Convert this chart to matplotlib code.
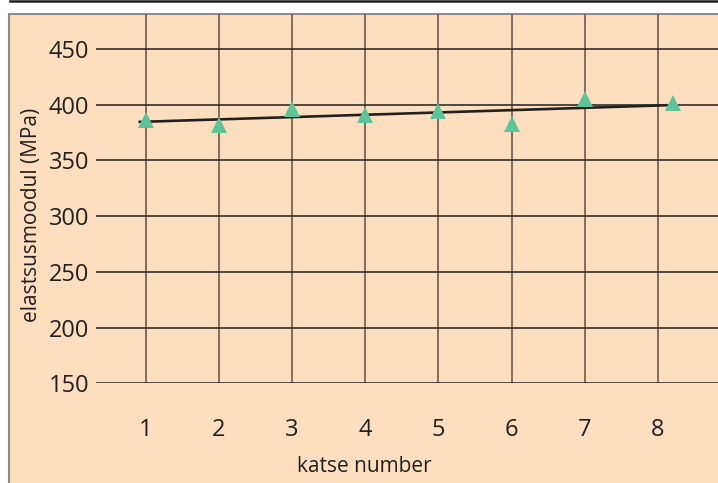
import matplotlib.pyplot as plt
from matplotlib.patches import Rectangle
from matplotlib.lines import Line2D

trial_x = [1, 2, 3, 4, 5, 6, 7, 8.2]
modulus = [386.2, 381.7, 396.0, 391.0, 394.6, 382.6, 405.0, 401.3]
trend_x = [0.9, 8.13]
trend_y = [384.4, 399.4]
x_ticks = [1, 2, 3, 4, 5, 6, 7, 8]
y_ticks = [150, 200, 250, 300, 350, 400, 450]

peach = '#FDDFC0'
ink = '#231F20'

plt.rcParams['font.family'] = ['Open Sans', 'DejaVu Sans']

fig = plt.figure(figsize=(7.18, 4.83), dpi=100)
fig.patch.set_facecolor('white')

# peach panel with grey border (left/top visible)
fig.add_artist(Rectangle((9 / 718, -0.02), 1.05, 1.02 - 14 / 483,
                         transform=fig.transFigure, facecolor=peach,
                         edgecolor='#8c8c8c', lw=1.5, zorder=0))
# black rule at the very top
fig.add_artist(Line2D([10 / 718, 1], [1 - 1 / 483] * 2, color=ink, lw=1.8,
                      transform=fig.transFigure))

ax = fig.add_axes([96 / 718, 1 - 383.3 / 483, 1 - 96 / 718, (383.3 - 14) / 483])
ax.set_facecolor('none')

ax.plot(trend_x, trend_y, color=ink, lw=1.9, zorder=3, solid_capstyle='butt')
ax.plot(trial_x, modulus, linestyle='none', marker='^', markersize=11,
        color='#5EC29B', markeredgewidth=0, zorder=4)

ax.set_xlim(0.32, 8.82)
ax.set_ylim(150, 481.2)
ax.set_xticks(x_ticks)
ax.set_yticks(y_ticks)
ax.tick_params(axis='both', length=0, labelsize=17, colors=ink)
ax.tick_params(axis='x', pad=25)
ax.tick_params(axis='y', pad=5)
for s in ax.spines.values():
    s.set_visible(False)

for y in y_ticks:
    ax.axhline(y, color=ink, lw=1.1, zorder=2)
for x in x_ticks:
    ax.axvline(x, color='#76665a', lw=1.3, zorder=1)

fig.text(32 / 718, 1 - 215 / 483, 'elastsusmoodul (MPa)', rotation=90,
         ha='center', va='center', fontsize=15, color=ink)
fig.text(364.7 / 718, 1 - 466 / 483, 'katse number',
         ha='center', va='center', fontsize=15, color=ink)

fig.savefig('out.png', dpi=100, facecolor='white')
